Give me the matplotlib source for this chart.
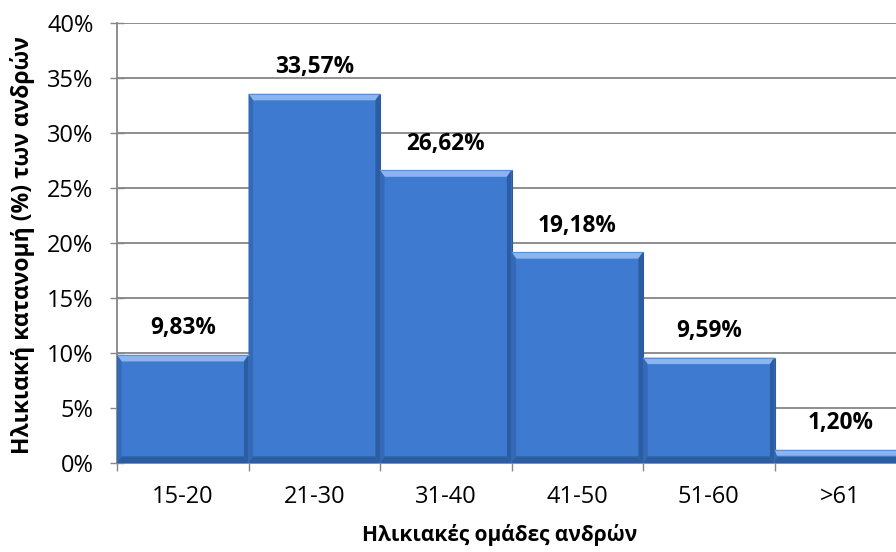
import numpy as np
import matplotlib.pyplot as plt
from matplotlib.patches import Polygon
from matplotlib.ticker import FuncFormatter, FixedLocator

plt.rcParams['font.family'] = ['Open Sans', 'Noto Sans', 'DejaVu Sans']

age_groups = ['15-20', '21-30', '31-40', '41-50', '51-60', '>61']
shares = [9.83, 33.57, 26.62, 19.18, 9.59, 1.20]
value_labels = ['9,83%', '33,57%', '26,62%', '19,18%', '9,59%', '1,20%']

face = '#3e7bd0'
light = '#8ab6f0'
dark = '#3369b6'
darker = '#2c5da3'
axis_grey = '#868686'

fig = plt.figure(figsize=(8.96, 5.52), dpi=100)
ax = fig.add_axes([117 / 896, 89 / 552, 789 / 896, 440 / 552])
ax.set_axisbelow(True)
ax.yaxis.grid(True, color=axis_grey, linewidth=1.3, zorder=0)

x = np.arange(len(age_groups))
bars = ax.bar(x, shares, width=1.0, color=face, edgecolor='#2f5c99',
              linewidth=0.8, zorder=2)

# bevel edges: light top, darker sides and bottom
bx = 0.035   # side bevel in x units
by = 0.6     # bevel in y units (%)
for xi, h in zip(x, shares):
    l, r = xi - 0.5, xi + 0.5
    t = min(by, h * 0.45)
    s = bx if h > 2 else bx * 0.5
    ax.add_patch(Polygon([(l, h), (r, h), (r - s, h - t), (l + s, h - t)],
                         closed=True, color=light, lw=0, zorder=3))
    ax.add_patch(Polygon([(l, 0), (l, h), (l + s, h - t), (l + s, t)],
                         closed=True, color=dark, lw=0, zorder=3))
    ax.add_patch(Polygon([(r, 0), (r, h), (r - s, h - t), (r - s, t)],
                         closed=True, color=darker, lw=0, zorder=3))
    ax.add_patch(Polygon([(l, 0), (r, 0), (r - s, t), (l + s, t)],
                         closed=True, color=darker, lw=0, zorder=3))
    ax.plot([l, r], [h, h], color='#5a8fd8', lw=0.8, zorder=4)

for xi, h, lab in zip(x, shares, value_labels):
    ax.annotate(lab, (xi, h), xytext=(0, 19), textcoords='offset points',
                ha='center', va='center', fontsize=16.3, fontweight='bold',
                color='black')

ax.set_xlim(-0.5, len(age_groups) - 0.5)
ax.set_ylim(0, 40)
ax.yaxis.set_major_locator(FixedLocator(np.arange(0, 41, 5)))
ax.yaxis.set_major_formatter(FuncFormatter(lambda v, p: f'{v:.0f}%'))

ax.set_xticks(x)
ax.set_xticklabels(age_groups)
ax.xaxis.set_minor_locator(FixedLocator(np.arange(-0.5, len(age_groups), 1)))
ax.tick_params(axis='x', which='major', length=0, labelsize=17, pad=16)
ax.tick_params(axis='x', which='minor', length=6, width=1, color=axis_grey,
               direction='out')
ax.tick_params(axis='y', length=10, width=1, color=axis_grey,
               direction='inout', labelsize=17, pad=12)

for side in ['top', 'right']:
    ax.spines[side].set_visible(False)
for side in ['left', 'bottom']:
    ax.spines[side].set_color(axis_grey)
    ax.spines[side].set_linewidth(1.3)

ax.set_xlabel('Ηλικιακές ομάδες ανδρών', fontsize=15, fontweight='bold')
ax.set_ylabel('Ηλικιακή κατανομή (%) των ανδρών', fontsize=16.5,
              fontweight='bold')
ax.xaxis.set_label_coords((500 - 117) / 789, -(535 - 463) / 440)
ax.yaxis.set_label_coords(-(117 - 22) / 789, (463 - 245) / 440)
ax.xaxis.label.set_va('center')
ax.yaxis.label.set_va('center')

fig.savefig('out.png', dpi=100)
